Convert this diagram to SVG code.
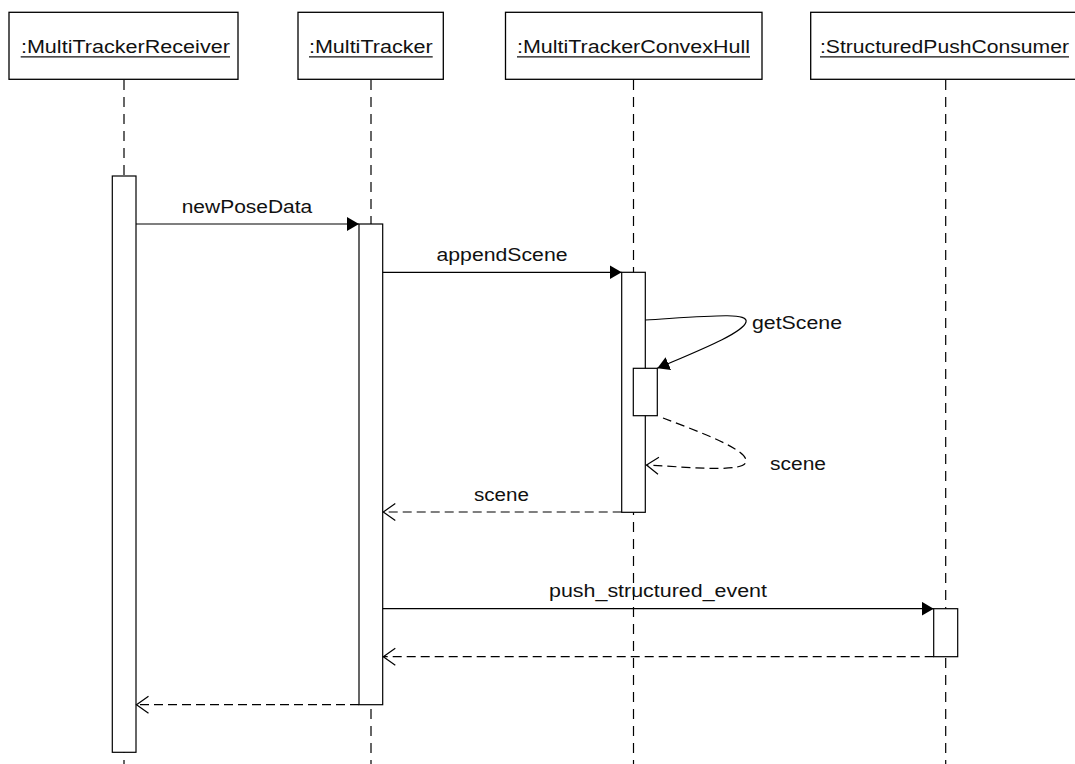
<svg xmlns="http://www.w3.org/2000/svg" width="1075" height="764" viewBox="0 0 1075 764">
  <style>
    .box { fill: #fff; stroke: #000; stroke-width: 1.3; }
    .bar { fill: #fff; stroke: #000; stroke-width: 1.2; }
    .life { stroke: #000; stroke-width: 1.2; stroke-dasharray: 10 7; fill: none; }
    .msg { stroke: #000; stroke-width: 1.2; fill: none; }
    .ret { stroke: #000; stroke-width: 1.2; fill: none; stroke-dasharray: 9 5; }
    .uline { stroke: #111; stroke-width: 1.2; }
    text { font-family: "Liberation Sans", Arial, sans-serif; font-size: 17.5px; fill: #111; }
  </style>
  <defs>
    <marker id="solid" markerUnits="userSpaceOnUse" markerWidth="14" markerHeight="16" refX="12" refY="7" orient="auto">
      <path d="M0,0 L12,7 L0,14 z" fill="#000"/>
    </marker>
    <marker id="open" markerUnits="userSpaceOnUse" markerWidth="16" markerHeight="20" refX="13" refY="9" orient="auto">
      <path d="M1,0.5 L13,9 L1,17.5" fill="none" stroke="#000" stroke-width="1.2"/>
    </marker>
  </defs>

  <!-- lifelines -->
  <g id="lifelines">
    <line class="life" x1="124" y1="80" x2="124" y2="764"/>
    <line class="life" x1="371" y1="80" x2="371" y2="764"/>
    <line class="life" x1="633.5" y1="80" x2="633.5" y2="764"/>
    <line class="life" x1="945.7" y1="80" x2="945.7" y2="764"/>
  </g>

  <!-- participants -->
  <g id="receiver">
    <rect class="box" x="9" y="12.3" width="229" height="67"/>
    <text x="125.4" y="52.5" text-anchor="middle" textLength="209" lengthAdjust="spacingAndGlyphs">:MultiTrackerReceiver</text>
    <line class="uline" x1="20.7" y1="56.8" x2="230" y2="56.8"/>
    <rect class="bar" x="112.3" y="176" width="23.7" height="576.3"/>
  </g>
  <g id="tracker">
    <rect class="box" x="298" y="12.3" width="145.3" height="67"/>
    <text x="370.8" y="52.5" text-anchor="middle" textLength="123.7" lengthAdjust="spacingAndGlyphs">:MultiTracker</text>
    <line class="uline" x1="309" y1="56.8" x2="432.7" y2="56.8"/>
    <rect class="bar" x="359" y="224" width="23.7" height="480.7"/>
  </g>
  <g id="convexhull">
    <rect class="box" x="505.5" y="12.3" width="256.5" height="67"/>
    <text x="633.5" y="52.5" text-anchor="middle" textLength="233" lengthAdjust="spacingAndGlyphs">:MultiTrackerConvexHull</text>
    <line class="uline" x1="517" y1="56.8" x2="750" y2="56.8"/>
    <rect class="bar" x="621.7" y="272.3" width="23.6" height="240"/>
    <rect class="bar" x="633.3" y="368.3" width="24" height="47.4"/>
  </g>
  <g id="consumer">
    <rect class="box" x="810.7" y="12.3" width="270" height="67"/>
    <text x="944.5" y="52.5" text-anchor="middle" textLength="249" lengthAdjust="spacingAndGlyphs">:StructuredPushConsumer</text>
    <line class="uline" x1="820" y1="56.8" x2="1069" y2="56.8"/>
    <rect class="bar" x="933.7" y="608.7" width="24" height="48"/>
  </g>

  <!-- messages -->
  <g id="connectors">
    <line class="msg" x1="136" y1="224" x2="359" y2="224" marker-end="url(#solid)"/>
    <line class="msg" x1="382.7" y1="272.3" x2="621.7" y2="272.3" marker-end="url(#solid)"/>
    <path class="msg" d="M645.3,320 C710,316 749,312 746,322 C743,333 700,350 657.3,368.3" marker-end="url(#solid)"/>
    <path class="ret" d="M663,418 C700,432 749,450 746,462 C743,472 700,468 646.5,465" marker-end="url(#open)"/>
    <line class="ret" x1="621.7" y1="512" x2="383.3" y2="512" marker-end="url(#open)"/>
    <line class="msg" x1="382.7" y1="608.7" x2="933.7" y2="608.7" marker-end="url(#solid)"/>
    <line class="ret" x1="933.7" y1="656.7" x2="383.3" y2="656.7" marker-end="url(#open)"/>
    <line class="ret" x1="359" y1="704.7" x2="136.5" y2="704.7" marker-end="url(#open)"/>

    <text x="247" y="212.7" text-anchor="middle" textLength="130.6" lengthAdjust="spacingAndGlyphs">newPoseData</text>
    <text x="502" y="260.7" text-anchor="middle" textLength="131" lengthAdjust="spacingAndGlyphs">appendScene</text>
    <text x="752" y="328.5" textLength="90" lengthAdjust="spacingAndGlyphs">getScene</text>
    <text x="770" y="470" textLength="56" lengthAdjust="spacingAndGlyphs">scene</text>
    <text x="501.5" y="500.5" text-anchor="middle" textLength="55" lengthAdjust="spacingAndGlyphs">scene</text>
    <text x="658" y="597" text-anchor="middle" textLength="218" lengthAdjust="spacingAndGlyphs">push_structured_event</text>
  </g>
</svg>
